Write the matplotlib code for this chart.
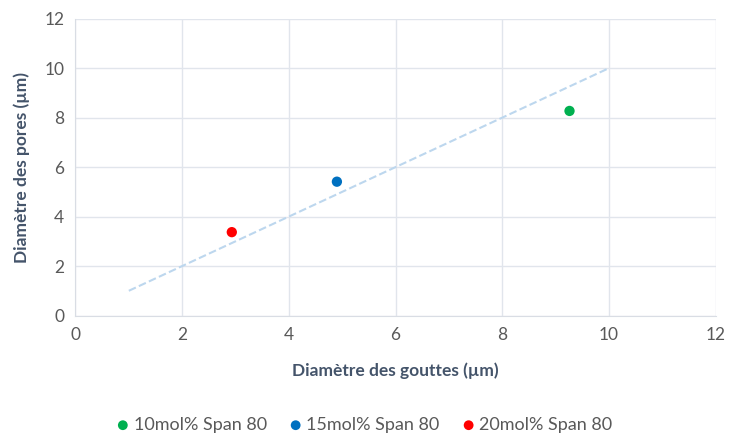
import matplotlib.pyplot as plt

plt.rcParams['font.family'] = ['Lato', 'DejaVu Sans']

# droplet diameter vs pore diameter for each surfactant load
labels = ['10mol% Span 80', '15mol% Span 80', '20mol% Span 80']
gouttes = [9.26, 4.90, 2.93]
pores = [8.27, 5.41, 3.37]
colors = ['#00B050', '#0070C0', '#FF0000']

# y = x reference line
ref_x = [1, 10]
ref_y = [1, 10]

fig = plt.figure(figsize=(7.3, 4.34), dpi=100)
ax = fig.add_axes([0.1034, 0.273, 0.877, 0.684])

ax.plot(ref_x, ref_y, linestyle='--', color='#BDD7EE', linewidth=1.5, zorder=2)
for x, y, c, lab in zip(gouttes, pores, colors, labels):
    ax.scatter([x], [y], s=55, color=c, label=lab, zorder=3, edgecolors='none')

ax.set_xlim(0, 12)
ax.set_ylim(0, 12)
ax.set_xticks(range(0, 13, 2))
ax.set_yticks(range(0, 13, 2))
ax.grid(True, color='#E1E5EC', linewidth=1)
ax.set_axisbelow(True)
for s in ['top', 'right']:
    ax.spines[s].set_visible(False)
for s in ['left', 'bottom']:
    ax.spines[s].set_color('#D9DDE4')
ax.tick_params(length=0, labelsize=12.5, colors='#595959', pad=8)

ax.set_xlabel('Diamètre des gouttes (µm)', fontsize=12.5, fontweight='bold',
              color='#44546A', labelpad=14)
ax.set_ylabel('Diamètre des pores (µm)', fontsize=12.5, fontweight='bold',
              color='#44546A', labelpad=10)

fig.legend(loc='lower center', bbox_to_anchor=(0.5, -0.035), ncol=3, frameon=False,
           fontsize=13, handlelength=0.6, handletextpad=0.3, columnspacing=1.3,
           labelcolor='#595959', markerscale=0.95)

fig.savefig('out.png', dpi=100)
